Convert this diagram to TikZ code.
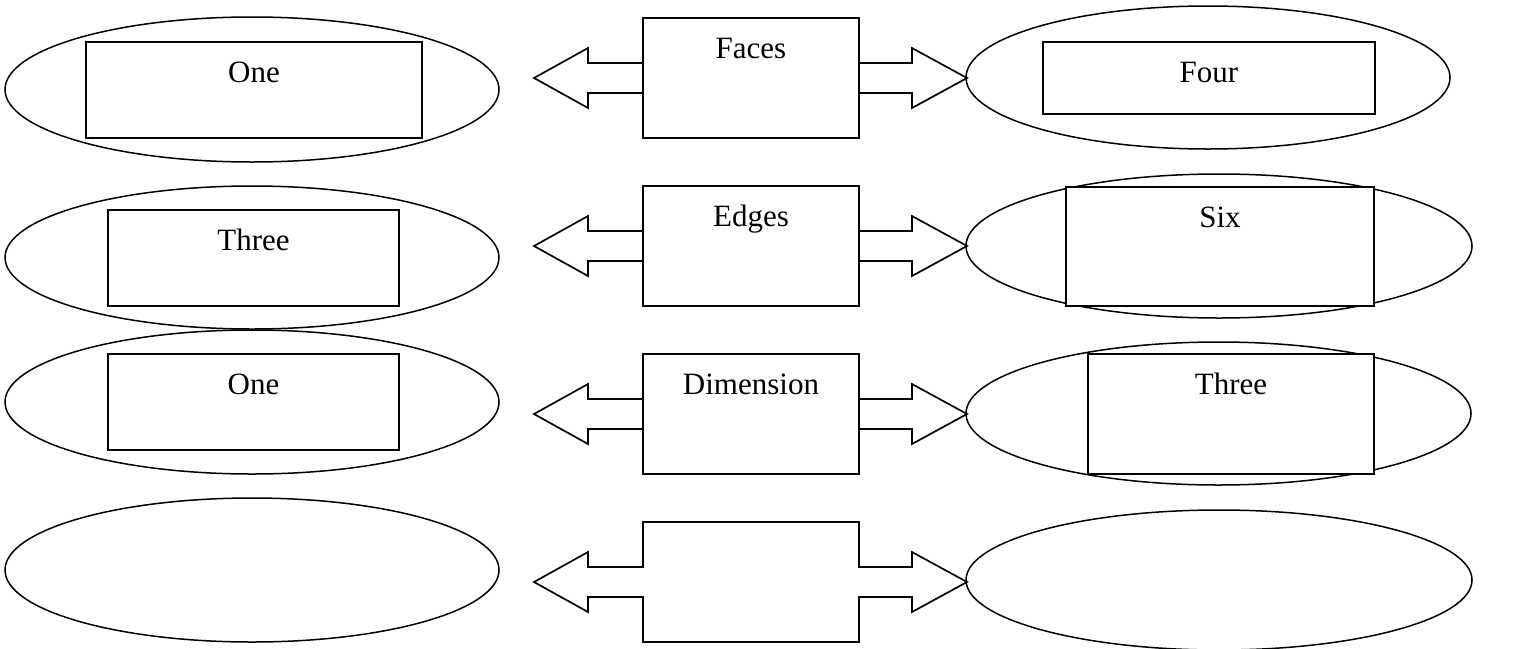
\documentclass[tikz,border=0pt]{standalone}
\usepackage{fontspec}
\setmainfont{Liberation Serif}
\usetikzlibrary{shapes.geometric}
\tikzset{
  oval/.style={draw, ellipse, line width=1.5pt, inner sep=0pt, outer sep=0pt},
  valbox/.style={draw, rectangle, fill=white, line width=1.6pt, inner sep=0pt, outer sep=0pt},
  keybox/.style={draw, rectangle, fill=white, line width=1.7pt, inner sep=0pt, outer sep=0pt,
    minimum width=216pt, minimum height=120pt},
  pipe/.style={draw, line width=1.7pt, line join=miter},
  word/.style={anchor=base, inner sep=0pt, font=\fontsize{31}{37}\selectfont}
}
\begin{document}
\begin{tikzpicture}[x=1pt, y=-1pt]
      \useasboundingbox (0,0) rectangle (1530,648);
      \node[oval, minimum width=494pt, minimum height=145pt] (l1) at (252,89.5) {};
      \node[oval, minimum width=494pt, minimum height=143pt] (l2) at (252,257.5) {};
      \node[oval, minimum width=494pt, minimum height=144pt] (l3) at (252,402) {};
      \node[oval, minimum width=494pt, minimum height=144pt] (l4) at (252,570) {};
      \node[oval, minimum width=484pt, minimum height=143pt] (r1) at (1208,77.5) {};
      \node[oval, minimum width=506pt, minimum height=144pt] (r2) at (1219,246) {};
      \node[oval, minimum width=505pt, minimum height=143pt] (r3) at (1218.5,413.5) {};
      \node[oval, minimum width=506pt, minimum height=140pt] (r4) at (1219,580) {};
      \node[valbox, minimum width=336pt, minimum height=96pt] (lb1) at (254,90) {};
      \node[valbox, minimum width=291pt, minimum height=96pt] (lb2) at (253.5,258) {};
      \node[valbox, minimum width=291pt, minimum height=96pt] (lb3) at (253.5,402) {};
      \node[valbox, minimum width=332pt, minimum height=72pt] (rb1) at (1209,78) {};
      \node[valbox, minimum width=308pt, minimum height=119pt] (rb2) at (1220,246.5) {};
      \node[valbox, minimum width=286pt, minimum height=120pt] (rb3) at (1231,414) {};
      \node[word] (lt1) at ([yshift=-40pt]lb1.north) {One};
      \node[word] (lt2) at ([yshift=-40pt]lb2.north) {Three};
      \node[word] (lt3) at ([yshift=-40pt]lb3.north) {One};
      \node[word] (rt1) at ([yshift=-40pt]rb1.north) {Four};
      \node[word] (rt2) at ([yshift=-40pt]rb2.north) {Six};
      \node[word] (rt3) at ([yshift=-40pt]rb3.north) {Three};
      \node[keybox, draw=none, fill=none] (k1) at (751,78) {};
      \node[keybox, draw=none, fill=none] (k2) at (751,246) {};
      \node[keybox, draw=none, fill=none] (k3) at (751,414) {};
      \node[keybox, draw=none, fill=none] (k4) at (751,582) {};
      \draw[pipe] (k1.west) ++(0,-15) -- ++(-55,0) -- ++(0,-15) -- ++(-54,30) -- ++(54,30) -- ++(0,-15) -- ++(55,0);
      \draw[pipe] (k1.east) ++(0,-15) -- ++(53,0) -- ++(0,-15) -- ++(55,30) -- ++(-55,30) -- ++(0,-15) -- ++(-53,0);
      \draw[pipe] (k2.west) ++(0,-15) -- ++(-55,0) -- ++(0,-15) -- ++(-54,30) -- ++(54,30) -- ++(0,-15) -- ++(55,0);
      \draw[pipe] (k2.east) ++(0,-15) -- ++(53,0) -- ++(0,-15) -- ++(55,30) -- ++(-55,30) -- ++(0,-15) -- ++(-53,0);
      \draw[pipe] (k3.west) ++(0,-15) -- ++(-55,0) -- ++(0,-15) -- ++(-54,30) -- ++(54,30) -- ++(0,-15) -- ++(55,0);
      \draw[pipe] (k3.east) ++(0,-15) -- ++(53,0) -- ++(0,-15) -- ++(55,30) -- ++(-55,30) -- ++(0,-15) -- ++(-53,0);
      \draw[pipe] (k4.north west) -- (k4.north east) -- ++(0,45) -- ++(53,0) -- ++(0,-15) -- ++(55,30)
        -- ++(-55,30) -- ++(0,-15) -- ++(-53,0) -- (k4.south east) -- (k4.south west) -- ++(0,-45)
        -- ++(-55,0) -- ++(0,15) -- ++(-54,-30) -- ++(54,-30) -- ++(0,15) -- ++(55,0) -- cycle;
      \draw[keybox] (k1.north west) rectangle (k1.south east);
      \draw[keybox] (k2.north west) rectangle (k2.south east);
      \draw[keybox] (k3.north west) rectangle (k3.south east);
      \node[word] (kt1) at ([yshift=-40pt]k1.north) {Faces};
      \node[word] (kt2) at ([yshift=-40pt]k2.north) {Edges};
      \node[word] (kt3) at ([yshift=-40pt]k3.north) {Dimension};
    \end{tikzpicture}
\end{document}
